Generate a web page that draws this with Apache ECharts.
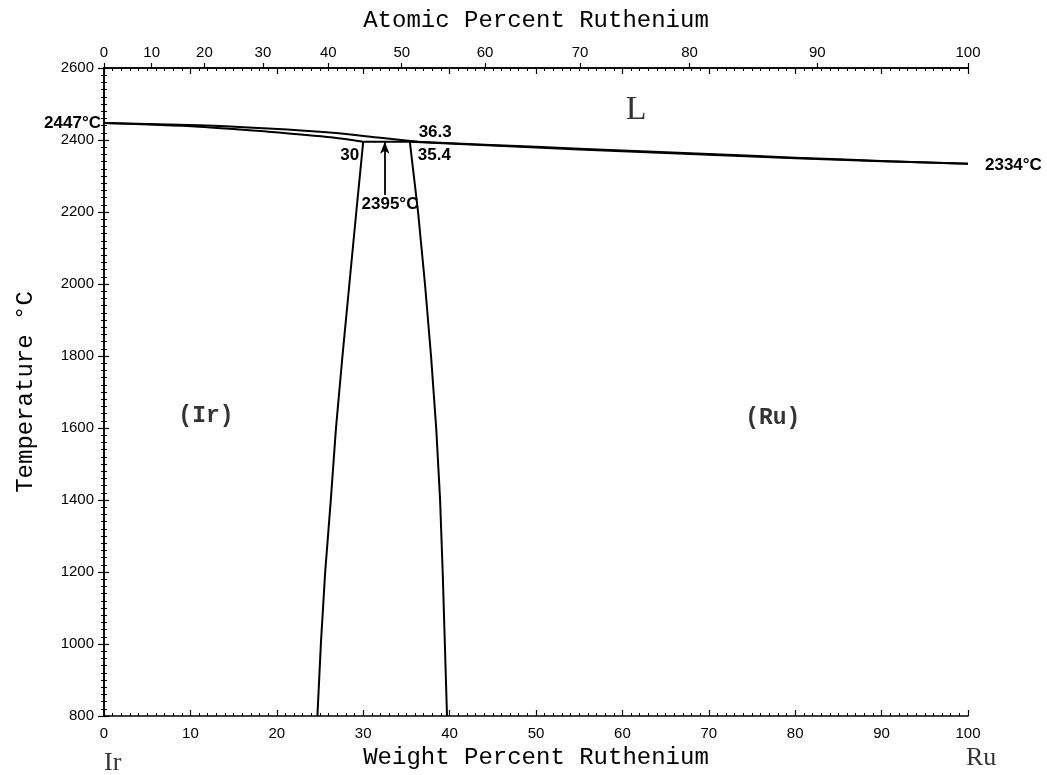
<!DOCTYPE html>
<html><head><meta charset="utf-8">
<script src="https://cdn.jsdelivr.net/npm/echarts@6/dist/echarts.min.js"></script>
<style>html,body{margin:0;padding:0;background:#fff}#c{width:1047px;height:775px}</style>
</head><body><div id="c"></div>
<script>
// ---- data ----
const wtTicks = [0,10,20,30,40,50,60,70,80,90,100];
const atomicTicks = [0,10,20,30,40,50,60,70,80,90,100];
const tempTicks = [800,1000,1200,1400,1600,1800,2000,2200,2400,2600];
const M_RU = 101.07, M_IR = 192.22;

const liquidusIr = [[0,2447],[11,2441],[19,2432],[26.5,2420],[32,2406],[36.3,2395]];
const solidusIr  = [[0,2447],[11,2437],[19,2423],[26.5,2407],[30,2395]];
const liquidusRu = [[36.3,2395],[50,2381],[60,2371],[70,2361],[80,2351],[90,2342],[100,2334]];
const solidusRu  = [[35.4,2395],[50,2379],[60,2369],[70,2359],[80,2349],[90,2341],[100,2334]];
const peritectic = [[30,2395],[36.3,2395]];
const solvusIr = [[30,2395],[29.2,2200],[28.4,2000],[27.6,1800],[26.85,1600],[26.25,1400],[25.6,1200],[25.1,1000],[24.7,800]];
const solvusRu = [[35.4,2395],[36.35,2200],[37.15,2000],[37.85,1800],[38.45,1600],[38.9,1400],[39.2,1200],[39.45,1000],[39.7,800]];
const arrow2395 = [[32.5,2247],[32.5,2395]];

const annotationTexts   = ['2447°C','2334°C','36.3','35.4','30','2395°C','L','(Ir)','(Ru)','Ir','Ru'];
const annotationAnchors = [[0,2447],[100,2334],[36.3,2395],[35.4,2395],[30,2395],[33.1,2221],[61.6,2483],[11.8,1633],[77.4,1628],[0,800],[100,800]];

// ---- styles ----
const NUM = {fontFamily:'Liberation Sans', fontWeight:'bold', fontSize:17, color:'#000', opacity:1, textBorderWidth:0};
const BIG = {fontFamily:'Liberation Mono', fontSize:24, color:'#000'};
const annStyles = [
  Object.assign({position:[-3,0], align:'right', verticalAlign:'middle'}, NUM),
  Object.assign({position:[17,2], align:'left', verticalAlign:'middle'}, NUM),
  Object.assign({position:[1,-9], align:'left', verticalAlign:'middle'}, NUM),
  Object.assign({position:[8,14], align:'left', verticalAlign:'middle'}, NUM),
  Object.assign({position:[-4,14], align:'right', verticalAlign:'middle'}, NUM),
  Object.assign({position:[0,0], align:'center', verticalAlign:'middle'}, NUM),
  Object.assign({position:[0,0], align:'center', verticalAlign:'middle'}, BIG, {fontFamily:'Liberation Serif', fontSize:34}),
  Object.assign({position:[0,0], align:'center', verticalAlign:'middle'}, BIG, {fontSize:23, fontWeight:'bold'}),
  Object.assign({position:[0,0], align:'center', verticalAlign:'middle'}, BIG, {fontSize:23, fontWeight:'bold'}),
  Object.assign({position:[0,47], align:'left', verticalAlign:'middle'}, BIG, {fontFamily:'Liberation Serif', fontSize:26}),
  Object.assign({position:[-2,42], align:'left', verticalAlign:'middle'}, BIG, {fontFamily:'Liberation Serif', fontSize:26})
];

function atToWt(a){ return a*M_RU/(a*M_RU+(100-a)*M_IR)*100; }
const atPositions = atomicTicks.map(atToWt);

const tickFont = {fontFamily:'Liberation Sans', fontSize:15, color:'#000'};
const axLine = {show:true, lineStyle:{color:'#000', width:1.5}};

function curve(data, smooth){
  return {type:'line', data:data, showSymbol:false, smooth:smooth||false, silent:true,
    lineStyle:{color:'#000', width:2}, z:3, animation:false};
}

const chart = echarts.init(document.getElementById('c'), null, {renderer:'canvas'});
chart.setOption({
  animation:false,
  backgroundColor:'#fff',
  grid:{left:104, right:79, top:68, bottom:59, containLabel:false},
  xAxis:[
    {type:'value', position:'bottom', min:wtTicks[0], max:wtTicks[wtTicks.length-1], interval:10,
     axisLine:axLine, axisTick:{show:true, inside:true, length:6, lineStyle:{color:'#000', width:1.2}},
     minorTick:{show:true, splitNumber:10, length:3, lineStyle:{color:'#000', width:1}},
     splitLine:{show:false}, axisLabel:Object.assign({margin:10, formatter:function(v){return String(v);}}, tickFont),
     name:'Weight Percent Ruthenium', nameLocation:'middle', nameGap:30, nameTextStyle:BIG},
    {type:'value', position:'top', min:0, max:100, interval:10,
     axisLine:axLine, axisTick:{show:true, inside:true, length:6, lineStyle:{color:'#000', width:1.2}},
     minorTick:{show:true, splitNumber:10, length:3, lineStyle:{color:'#000', width:1}},
     splitLine:{show:false}, axisLabel:{show:false}},
    {type:'value', position:'top', min:0, max:100,
     axisLine:axLine,
     axisTick:{show:true, inside:false, length:5, customValues:atPositions, lineStyle:{color:'#000', width:1.2}},
     splitLine:{show:false},
     axisLabel:Object.assign({margin:8, customValues:atPositions, formatter:function(v){
        for (let i=0;i<atPositions.length;i++){ if (Math.abs(atPositions[i]-v)<1e-6) return String(atomicTicks[i]); }
        return '';
     }}, tickFont),
     name:'Atomic Percent Ruthenium', nameLocation:'middle', nameGap:35, nameTextStyle:BIG}
  ],
  yAxis:[
    {type:'value', position:'left', min:tempTicks[0], max:tempTicks[tempTicks.length-1], interval:200,
     axisLine:axLine, axisTick:{show:true, inside:false, length:6, lineStyle:{color:'#000', width:1.2}},
     minorTick:{show:true, splitNumber:10, length:3, lineStyle:{color:'#000', width:1}},
     splitLine:{show:false}, axisLabel:Object.assign({margin:10, formatter:function(v){return String(v);}}, tickFont),
     name:'Temperature °C', nameLocation:'middle', nameGap:66, nameTextStyle:BIG},
    {type:'value', position:'right', min:tempTicks[0], max:tempTicks[tempTicks.length-1], interval:200,
     axisLine:axLine, axisTick:{show:true, inside:false, length:5, lineStyle:{color:'#000', width:1.2}},
     minorTick:{show:true, splitNumber:10, length:3, lineStyle:{color:'#000', width:1}},
     splitLine:{show:false}, axisLabel:{show:false}}
  ],
  series:[
    curve(liquidusIr, 0.3),
    curve(solidusIr, 0.3),
    curve(liquidusRu, 0.3),
    curve(solidusRu, 0.3),
    curve(peritectic),
    curve(solvusIr),
    curve(solvusRu),
    {type:'line', data:[], silent:true, animation:false,
     markLine:{silent:true, symbol:['none','arrow'], symbolSize:[7,12], label:{show:false},
       lineStyle:{color:'#000', width:1.8, type:'solid'},
       data:[[{coord:arrow2395[0]},{coord:arrow2395[1]}]]}},
    {type:'scatter', symbolSize:0, clip:false, silent:true, animation:false, z:5,
     itemStyle:{color:'#000'},
     data:annotationTexts.map(function(t,i){
       return {value:annotationAnchors[i], label:Object.assign({show:true, formatter:t}, annStyles[i])};
     })}
  ]
});
</script>
</body></html>
